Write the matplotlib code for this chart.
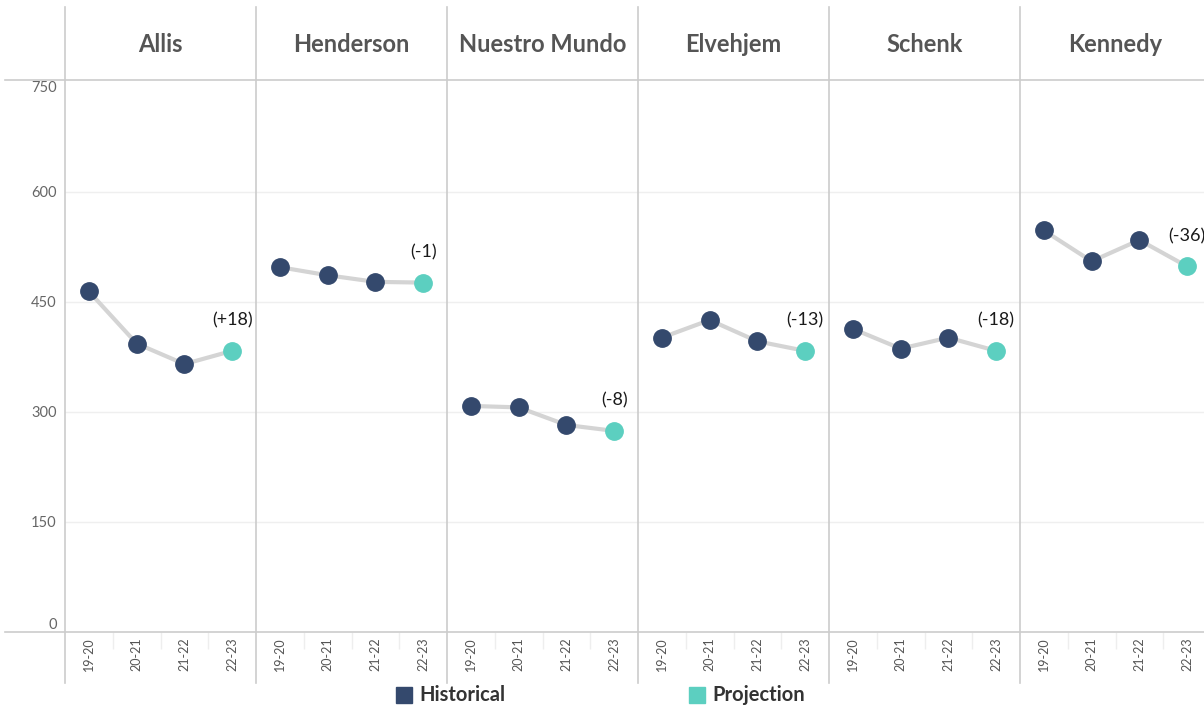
import matplotlib as mpl
mpl.use('Agg')
import matplotlib.pyplot as plt
from matplotlib.lines import Line2D

plt.rcParams['font.family'] = ['Lato', 'DejaVu Sans']

# data
schools = ['Allis', 'Henderson', 'Nuestro Mundo', 'Elvehjem', 'Schenk', 'Kennedy']
years = ['19-20', '20-21', '21-22', '22-23']
allis = [464, 393, 365, 383]
henderson = [497, 486, 477, 476]
nuestro_mundo = [308, 306, 282, 274]
elvehjem = [401, 425, 396, 383]
schenk = [413, 386, 401, 383]
kennedy = [547, 505, 534, 498]
changes = ['(+18)', '(-1)', '(-8)', '(-13)', '(-18)', '(-36)']
series = [allis, henderson, nuestro_mundo, elvehjem, schenk, kennedy]

W, H = 1204, 709
hist_color = '#34496d'
proj_color = '#5ccfc0'
line_gray = '#d4d4d4'
div_gray = '#cccccc'

fig = plt.figure(figsize=(W / 100, H / 100), dpi=100)

# pixel layout
top_px, bot_px = 80, 632
left_px, panel_w = 65, 191


def fx(px):
	return px / W


def fy(py):
	return 1 - py / H


ymax = 752
for i, (name, vals, chg) in enumerate(zip(schools, series, changes)):
	x0 = left_px + i * panel_w
	ax = fig.add_axes([fx(x0), fy(bot_px), panel_w / W, (bot_px - top_px) / H])
	ax.set_xlim(-0.5, 3.5)
	ax.set_ylim(0, ymax)
	for s in ax.spines.values():
		s.set_visible(False)
	ax.set_yticks([150, 300, 450, 600])
	ax.yaxis.grid(True, color='#efefef', lw=1)
	ax.set_axisbelow(True)
	ax.tick_params(axis='y', length=0, labelleft=False)
	ax.set_xticks(range(len(years)))
	ax.set_xticklabels(years, rotation=90, fontsize=9, color='#555555')
	ax.tick_params(axis='x', which='major', length=0, pad=4)
	ax.set_xticks([0.5, 1.5, 2.5], minor=True)
	ax.tick_params(axis='x', which='minor', length=12, color='#eeeeee', width=1)

	xs = list(range(len(years)))
	ax.plot(xs, vals, color=line_gray, lw=3, zorder=2)
	ax.plot(xs[:3], vals[:3], 'o', color=hist_color, ms=12.5, mec=hist_color, zorder=3)
	ax.plot(xs[3:], vals[3:], 'o', color=proj_color, ms=12.5, mec=proj_color, zorder=3)
	ax.annotate(chg, (xs[3], vals[3]), xytext=(0, 16), textcoords='offset points',
		ha='center', va='bottom', fontsize=13, color='#1a1a1a', annotation_clip=False)

	ax.text(0.5, (bot_px - 44) / (bot_px - top_px), name, transform=ax.transAxes,
		ha='center', va='center', fontsize=17, fontweight='bold', color='#555555')

	if i == 0:
		ax.set_yticks([0, 150, 300, 450, 600, 750])
		ax.tick_params(axis='y', labelleft=True, pad=6, labelsize=10.5, labelcolor='#666666')
		ax.yaxis.grid(False)
		for t in ax.get_yticklabels():
			if t.get_text() == '750':
				t.set_va('top')
				t.set_y(744)
			elif t.get_text() == '0':
				t.set_va('bottom')
		for v in [150, 300, 450, 600]:
			ax.axhline(v, color='#efefef', lw=1, zorder=0)

# horizontal frame lines
for py in [top_px, bot_px]:
	fig.add_artist(Line2D([fx(5), 1], [fy(py), fy(py)], color=div_gray, lw=1.2))
# vertical dividers
for i in range(len(schools)):
	px = left_px + i * panel_w
	fig.add_artist(Line2D([fx(px), fx(px)], [fy(7), fy(683)], color=div_gray, lw=1.2))

# legend
legend_items = [('Historical', hist_color, 404), ('Projection', proj_color, 697)]
for label, col, px in legend_items:
	fig.add_artist(Line2D([fx(px)], [fy(695)], marker='s', ls='none', ms=11.5, color=col))
	fig.text(fx(px + 15), fy(695), label, ha='left', va='center', fontsize=14.5,
		fontweight='bold', color='#333333')

fig.savefig('out.png', dpi=100)
